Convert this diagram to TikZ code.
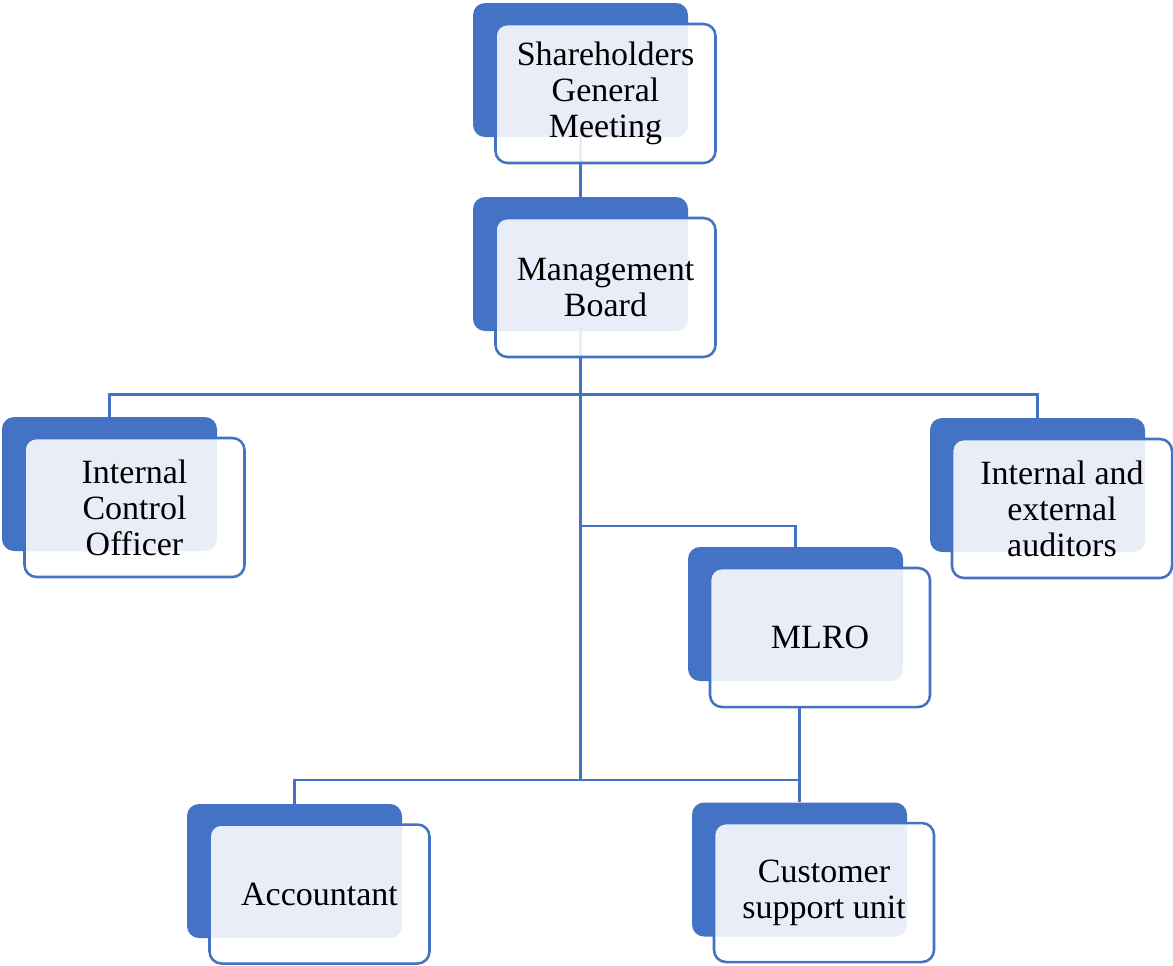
\documentclass[tikz,border=0pt]{standalone}
\usepackage{fontspec}
\setmainfont{Liberation Serif}
\usetikzlibrary{backgrounds}
\definecolor{accent}{HTML}{4472C4}
\tikzset{
  backbox/.style={fill=accent, draw=none, rounded corners=9pt,
    minimum width=161.25pt, minimum height=100.5pt, inner sep=0pt},
  frontbox/.style={draw=accent, line width=1.9pt, fill=white, fill opacity=0.88,
    text opacity=1, rounded corners=9pt, minimum width=165pt, minimum height=104.25pt,
    inner sep=0pt, align=center, font=\fontsize{25.5pt}{27pt}\selectfont},
  link/.style={draw=accent, line width=1.9pt}
}
\begin{document}
\begin{tikzpicture}[x=0.75pt, y=-0.75pt]
        \useasboundingbox (0,0) rectangle (1173,965);

        \node[backbox] (sgm-b) at (580.5,70) {}; %shareholders
        \node[frontbox] (sgm) at (605.5,93.5) {Shareholders\\General\\Meeting};

        \node[backbox] (mb-b) at (580.5,264) {}; %board
        \node[frontbox] (mb) at (605.5,287.5) {Management\\Board};

        \node[backbox] (ico-b) at (109.5,484) {}; %control officer
        \node[frontbox] (ico) at (134.5,507.5) {Internal\\Control\\Officer};

        \node[backbox] (aud-b) at (1037.5,485) {}; %auditors
        \node[frontbox] (aud) at (1062,508.5) {Internal and\\external\\auditors};

        \node[backbox] (mlro-b) at (795.5,614) {}; %mlro
        \node[frontbox] (mlro) at (820,637.5) {MLRO};

        \node[backbox] (acc-b) at (294.5,871) {}; %accountant
        \node[frontbox] (acc) at (319.5,894) {Accountant};

        \node[backbox] (csu-b) at (799.5,869.5) {}; %customer support
        \node[frontbox] (csu) at (824,892.5) {Customer\\support unit};

        \coordinate (trunk) at (580.5,780);
        \coordinate (fork) at (580.5,526);

        \begin{pgfonlayer}{background}
        \draw[link] (sgm-b.south) -- (mb-b.north);
        \draw[link] (mb-b.south) -- (trunk);
        \draw[link] (ico-b.north) -- ++(0,-22) -| (aud-b.north);
        \draw[link] (fork) -| (mlro-b.north);
        \draw[link] (acc-b.north) -- (acc-b.north |- trunk) -| (csu-b.north);
        \draw[link] (mlro.south -| csu-b.north) -- (csu-b.north);
        \end{pgfonlayer}
    \end{tikzpicture}
\end{document}
